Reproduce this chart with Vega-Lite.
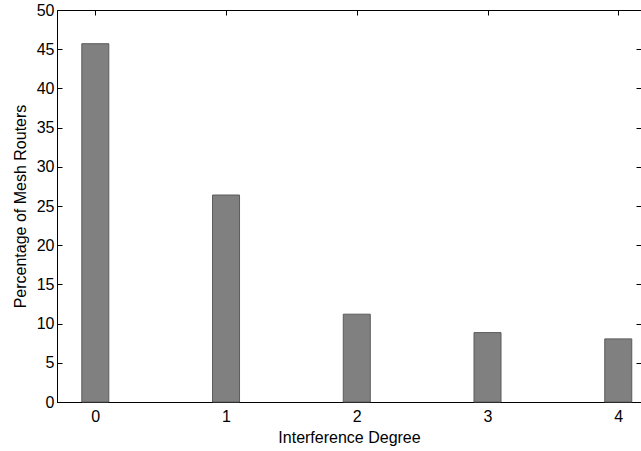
{
  "$schema": "https://vega.github.io/schema/vega-lite/v6.json",
  "autosize": "none",
  "width": 584,
  "height": 392,
  "padding": {"left": 57, "top": 10, "right": 0, "bottom": 49},
  "background": "white",
  "config": {
    "view": {"stroke": "black", "strokeWidth": 1},
    "font": "Liberation Sans",
    "axis": {
      "labelFont": "Liberation Sans",
      "titleFont": "Liberation Sans",
      "labelFontSize": 16,
      "titleFontSize": 16,
      "titleFontWeight": "normal",
      "labelColor": "black",
      "titleColor": "black",
      "domainColor": "black",
      "tickColor": "black",
      "grid": false
    }
  },
  "data": {
    "values": [
      {"degree": 0, "pct": 45.7},
      {"degree": 1, "pct": 26.4},
      {"degree": 2, "pct": 11.2},
      {"degree": 3, "pct": 8.85},
      {"degree": 4, "pct": 8.05}
    ]
  },
  "layer": [
    {
      "mark": {"type": "bar", "size": 27, "color": "#808080", "stroke": "#5a5a5a", "strokeWidth": 1},
      "encoding": {
        "x": {
          "field": "degree", "type": "quantitative",
          "scale": {"domain": [-0.293, 4.174], "nice": false, "zero": false, "padding": 0},
          "axis": {"values": [0, 1, 2, 3, 4], "title": "Interference Degree", "tickSize": -5, "labelPadding": 11, "titlePadding": 5, "format": "d"}
        },
        "y": {
          "field": "pct", "type": "quantitative",
          "scale": {"domain": [0, 50], "nice": false, "padding": 0},
          "axis": {"values": [0, 5, 10, 15, 20, 25, 30, 35, 40, 45, 50], "title": "Percentage of Mesh Routers", "tickSize": -5, "labelPadding": 8, "titlePadding": 8}
        }
      }
    },
    {
      "mark": {"type": "bar", "size": 27, "opacity": 0},
      "encoding": {
        "x": {
          "field": "degree", "type": "quantitative",
          "axis": {"orient": "top", "values": [0, 1, 2, 3, 4], "labels": false, "title": null, "tickSize": -5, "domain": false}
        },
        "y": {
          "field": "pct", "type": "quantitative",
          "axis": {"orient": "right", "values": [0, 5, 10, 15, 20, 25, 30, 35, 40, 45, 50], "labels": false, "title": null, "tickSize": -5, "domain": false}
        }
      }
    }
  ],
  "resolve": {"axis": {"x": "independent", "y": "independent"}}
}
